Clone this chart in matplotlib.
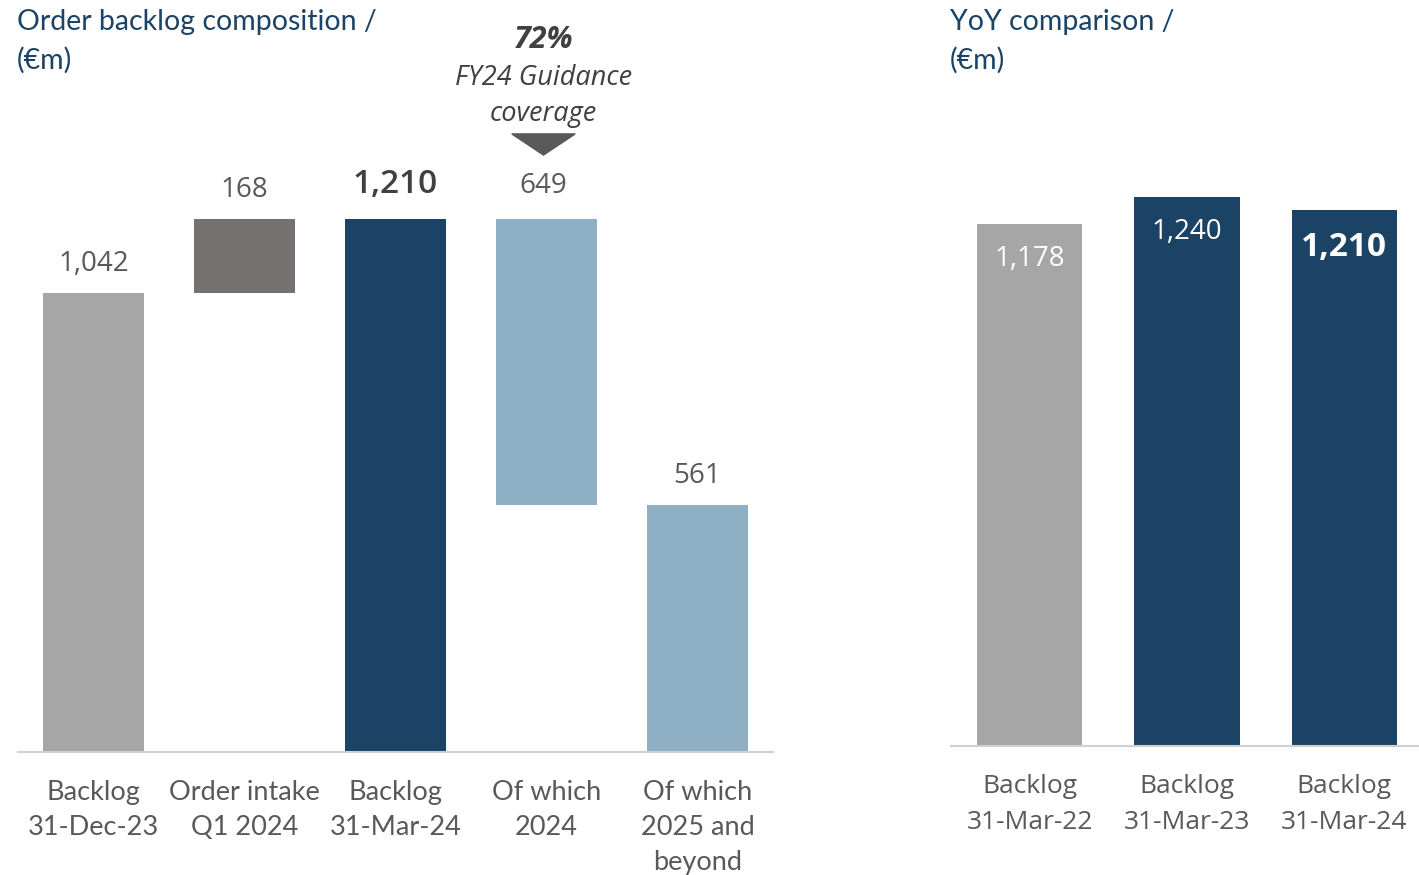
import matplotlib
matplotlib.use("Agg")
import matplotlib.pyplot as plt
from matplotlib.patches import Polygon

# Data
wf_labels = ["Backlog\n31-Dec-23", "Order intake\nQ1 2024", "Backlog\n31-Mar-24",
             "Of which\n2024", "Of which\n2025 and\nbeyond"]
backlog_start = 1042
order_intake = 168
backlog_end = 1210
of_2024 = 649
of_2025 = 561
coverage_pct = 72

yoy_labels = ["Backlog\n31-Mar-22", "Backlog\n31-Mar-23", "Backlog\n31-Mar-24"]
yoy_values = [1178, 1240, 1210]

# Colors
GREY = "#A6A6A6"
DGREY = "#767171"
NAVY = "#1B4366"
LBLUE = "#8FAFC5"
TXT = "#595959"
TITLE = "#1B4366"

W, H = 1419, 875
fig = plt.figure(figsize=(W / 100, H / 100), dpi=100)


def px_axes(left, right, top, bottom):
    return fig.add_axes([left / W, 1 - bottom / H, (right - left) / W, (bottom - top) / H])


# -------- Left: waterfall --------
ax = px_axes(18, 773, 100, 752)
heights = [backlog_start, order_intake, backlog_end, of_2024, of_2025]
bottoms = [0, backlog_start, 0, backlog_end - of_2024, 0]
colors = [GREY, DGREY, NAVY, LBLUE, LBLUE]
x = list(range(len(wf_labels)))
ax.bar(x, heights, bottom=bottoms, width=0.67, color=colors)
ax.set_xlim(-0.5, 4.5)
ax.set_ylim(0, 1480)

for i, (h, b) in enumerate(zip(heights, bottoms)):
    top = h + b
    if i == 2:
        ax.annotate(f"{h:,}", (i, top), xytext=(0, 13), textcoords="offset points",
                    ha="center", va="bottom", fontsize=24, fontweight="semibold",
                    color="#404040", family="Open Sans")
    elif i == 3:
        ax.annotate(f"{h:,}", (i - 0.02, top), xytext=(0, 14), textcoords="offset points",
                    ha="center", va="bottom", fontsize=20, color=TXT, family="Open Sans")
    else:
        ax.annotate(f"{h:,}", (i, top), xytext=(0, 11), textcoords="offset points",
                    ha="center", va="bottom", fontsize=20, color=TXT, family="Open Sans")

ax.set_xticks(x)
ax.set_xticklabels(wf_labels, fontsize=19.5, color=TXT, family="Lato", linespacing=1.5)
ax.tick_params(axis="x", length=0, pad=20)
ax.set_yticks([])
for s in ["top", "left", "right"]:
    ax.spines[s].set_visible(False)
ax.spines["bottom"].set_color("#D0D0D0")
ax.spines["bottom"].set_linewidth(1.5)

# guidance annotation
cx = 3 - 0.02
ax.annotate(f"{coverage_pct}%", (cx, 1 - 40 / H), xycoords=("data", "figure fraction"),
            ha="center", va="center", fontsize=22, fontweight="bold", style="italic",
            color="#404040", family="Open Sans")
ax.annotate("FY24 Guidance", (cx, 1 - 78 / H), xycoords=("data", "figure fraction"),
            ha="center", va="center", fontsize=19.5, style="italic", color="#404040",
            family="Open Sans")
ax.annotate("coverage", (cx, 1 - 114 / H), xycoords=("data", "figure fraction"),
            ha="center", va="center", fontsize=19.5, style="italic", color="#404040",
            family="Open Sans")
tri = Polygon([[cx - 0.21, 1403], [cx + 0.21, 1403], [cx, 1355]], closed=True,
              color="#595959", clip_on=False)
ax.add_patch(tri)

fig.text(17 / W, 1 - 22 / H, "Order backlog composition /", fontsize=20.5, color=TITLE,
         family="Lato", ha="left", va="center")
fig.text(17 / W, 1 - 60 / H, "(€m)", fontsize=20.5, color=TITLE,
         family="Lato", ha="left", va="center")

# -------- Right: YoY --------
ax2 = px_axes(951, 1423, 100, 746)
x2 = list(range(len(yoy_labels)))
ax2.bar(x2, yoy_values, width=0.67, color=[GREY, NAVY, NAVY])
ax2.set_xlim(-0.5, 2.5)
ax2.set_ylim(0, 1459)
for i, v in enumerate(yoy_values):
    if i == 2:
        ax2.annotate(f"{v:,}", (i, v), xytext=(0, -15), textcoords="offset points",
                     ha="center", va="top", fontsize=24, fontweight="bold",
                     color="white", family="Open Sans")
    else:
        ax2.annotate(f"{v:,}", (i, v), xytext=(0, -15), textcoords="offset points",
                     ha="center", va="top", fontsize=20, color="white", family="Open Sans")

ax2.set_xticks(x2)
ax2.set_xticklabels(yoy_labels, fontsize=19, color=TXT, family="Open Sans", linespacing=1.6)
ax2.tick_params(axis="x", length=0, pad=20)
ax2.set_yticks([])
for s in ["top", "left", "right"]:
    ax2.spines[s].set_visible(False)
ax2.spines["bottom"].set_color("#D0D0D0")
ax2.spines["bottom"].set_linewidth(1.5)

fig.text(950 / W, 1 - 22 / H, "YoY comparison /", fontsize=20.5, color=TITLE,
         family="Lato", ha="left", va="center")
fig.text(950 / W, 1 - 60 / H, "(€m)", fontsize=20.5, color=TITLE,
         family="Lato", ha="left", va="center")

fig.savefig("out.png", dpi=100)
